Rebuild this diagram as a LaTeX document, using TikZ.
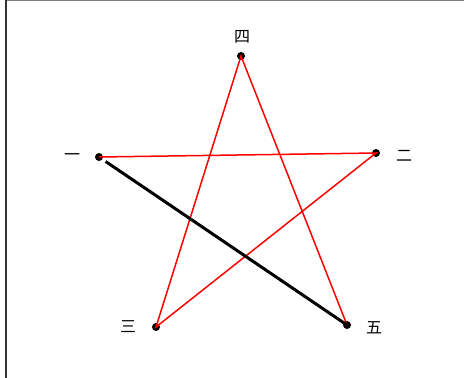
\documentclass[tikz,border=0pt]{standalone}
\usepackage{fontspec}
\newfontfamily\cjk{Noto Sans CJK SC}
\usetikzlibrary{positioning}
\tikzset{
  pt/.style={circle, fill=black, inner sep=0pt, minimum size=8pt},
  lab/.style={font=\cjk\fontsize{16}{16}\selectfont, inner sep=0pt},
  edge/.style={red, line width=1.5pt},
  bold/.style={black, line width=3pt}
}
\begin{document}
\begin{tikzpicture}[x=1pt, y=-1pt]
  \useasboundingbox (0,0) rectangle (464,378);
  % frame
  \draw[gray, line width=2pt] (6,0) -- (464,0);
  \draw[black!80, line width=1.6pt] (6,0) -- (6,378);
  % points
  \node[pt] (p1) at (99,157) {};
  \node[pt] (p2) at (376,153) {};
  \node[pt] (p3) at (156,327) {};
  \node[pt] (p4) at (241,56) {};
  \node[pt] (p5) at (347,325) {};
  % labels
  \node[lab] (l1) at (72,157) {一};
  \node[lab] (l2) at (404,156) {二};
  \node[lab] (l3) at (128,327) {三};
  \node[lab] (l4) at (242,37) {四};
  \node[lab] (l5) at (374,328) {五};
  % star
  \draw[edge] (p1.center) -- (p2.center) -- (p3.center) -- (p4.center) -- (p5.center);
  \draw[bold, shorten <=8pt] (p1.center) -- (p5.center);
\end{tikzpicture}
\end{document}
